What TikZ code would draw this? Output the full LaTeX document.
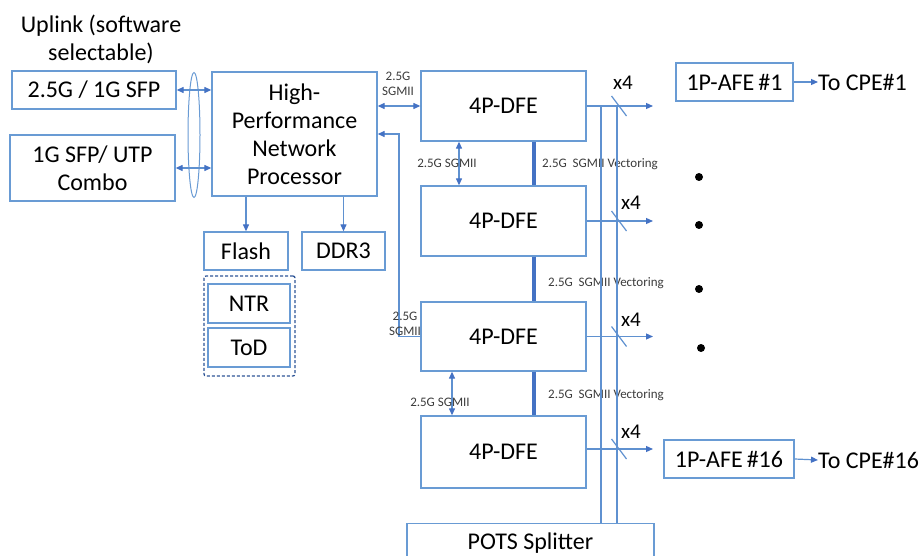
\documentclass[tikz,border=0pt]{standalone}
\usepackage{fontspec}
\setmainfont{Carlito}
\usetikzlibrary{arrows.meta,shapes.geometric}
\definecolor{boxc}{RGB}{105,155,212}
\definecolor{linec}{RGB}{95,145,208}
\definecolor{arrc}{RGB}{68,114,196}
\definecolor{dashc}{RGB}{47,85,151}
\definecolor{labc}{RGB}{60,60,60}
\begin{document}
\begin{tikzpicture}[x=1pt,y=-1pt,
  box/.style={draw=boxc, line width=1.3pt, inner sep=0pt, align=center, font=\fontsize{24}{28}\selectfont, text=black},
  conn/.style={draw=linec, line width=1.2pt},
  arr/.style={conn, -{Triangle[length=7pt,width=6pt,color=arrc]}},
  dbl/.style={conn, {Triangle[length=7pt,width=6pt,color=arrc]}-{Triangle[length=7pt,width=6pt,color=arrc]}},
  vect/.style={draw=arrc, line width=3.5pt},
  small/.style={font=\fontsize{13}{15}\selectfont, text=labc, inner sep=0pt, align=center},
  big/.style={font=\fontsize{24}{28}\selectfont, inner sep=0pt, align=center},
  xfour/.style={font=\fontsize{21}{24}\selectfont, inner sep=0pt},
]
\useasboundingbox (0,0) rectangle (919,556);
\fill[white] (0,0) rectangle (919,556);

% uplink side
\node[big] (uplink) at (101,39) {Uplink (software\\selectable)};
\node[box, minimum width=164pt, minimum height=38pt] (sfp) at (94,90) {2.5G / 1G SFP};
\node[box, minimum width=165pt, minimum height=66pt] (combo) at (92.5,168) {1G SFP/ UTP\\Combo};
\node[box, minimum width=165pt, minimum height=124pt] (hpnp) at (294.5,134) {High-\\Performance\\Network\\Processor};
\node[draw=boxc, line width=1pt, ellipse, minimum width=12pt, minimum height=125pt, inner sep=0pt] (ell) at (194,135) {};
\draw[dbl] (sfp.east) -- (sfp.east -| hpnp.west);
\draw[dbl] (combo.east) -- (combo.east -| hpnp.west);

% memory
\node[box, minimum width=84pt, minimum height=38pt] (flash) at (246,251) {Flash};
\node[box, minimum width=83pt, minimum height=38pt] (ddr) at (343.5,251) {DDR3};
\draw[arr] (flash.north |- hpnp.south) -- (flash.north);
\draw[arr] (ddr.north |- hpnp.south) -- (ddr.north);

% timing
\node[draw=dashc, line width=1.3pt, dash pattern=on 3pt off 2pt, rounded corners=2pt, minimum width=91pt, minimum height=100pt, inner sep=0pt] (timing) at (249.5,326) {};
\node[box, minimum width=82pt, minimum height=39pt] (ntr) at (249,303.5) {NTR};
\node[box, minimum width=82pt, minimum height=39pt] (tod) at (249,347.5) {ToD};

% DFEs
\node[box, minimum width=165pt, minimum height=70pt] (dfe1) at (503.5,106) {4P-DFE};
\node[box, minimum width=165pt, minimum height=70pt] (dfe2) at (503.5,221) {4P-DFE};
\node[box, minimum width=165pt, minimum height=69pt] (dfe3) at (503.5,336.5) {4P-DFE};
\node[box, minimum width=165pt, minimum height=72pt] (dfe4) at (503.5,452) {4P-DFE};

% HPNP <-> DFE
\draw[dbl] (hpnp.east |- dfe1.west) -- (dfe1.west);
\node[small] (l1) at (398,84) {2.5G\\SGMII};
\coordinate (retA) at (399,134);
\draw[arr] (dfe3.west) -| (retA) -- (hpnp.east |- retA);
\node[small] (l2) at (405,324) {2.5G\\SGMII};

% DFE <-> DFE
\draw[dbl] (dfe1.south -| 459,0) -- (dfe2.north -| 459,0);
\node[small] (l3) at (447,163) {2.5G SGMII};
\draw[dbl] (dfe3.south -| 452,0) -- (dfe4.north -| 452,0);
\node[small] (l4) at (440,402) {2.5G SGMII};

% vectoring
\draw[vect] (dfe1.south -| 534,0) -- (dfe2.north -| 534,0);
\draw[vect] (dfe2.south -| 534,0) -- (dfe3.north -| 534,0);
\draw[vect] (dfe3.south -| 534,0) -- (dfe4.north -| 534,0);
\node[small, anchor=west] (v1) at (542,164) {2.5G\ \ SGMII Vectoring};
\node[small, anchor=west] (v2) at (548,283) {2.5G\ \ SGMII Vectoring};
\node[small, anchor=west] (v3) at (548,395) {2.5G\ \ SGMII Vectoring};

% POTS splitter
\begin{scope}
\clip (0,0) rectangle (919,556);
\node[box, minimum width=247pt, minimum height=60pt, anchor=north] (pots) at (530.5,523) {};
\end{scope}
\node[big] (potst) at (530.5,543) {POTS Splitter};

% vertical buses
\draw[conn] (601,106) -- (601 ,523);
\draw[conn] (617,106) -- (617,523);

% outputs
\coordinate (o1) at (653,106);
\coordinate (o2) at (653,221);
\coordinate (o3) at (653,336.5);
\coordinate (o4) at (653,449);
\draw[arr] (dfe1.east) -- (o1);
\draw[arr] (dfe2.east) -- (o2);
\draw[arr] (dfe3.east) -- (o3);
\draw[arr] (dfe4.east |- o4) -- (o4);
\foreach \yy in {106,221,336.5,449} {
  \draw[conn] (611.5,\yy-10) -- (626.5,\yy+10);
}
\node[xfour] (x1) at (623,83) {x4};
\node[xfour] (x2) at (631,203) {x4};
\node[xfour] (x3) at (631,320) {x4};
\node[xfour] (x4) at (631,432) {x4};

% AFEs
\node[box, minimum width=117pt, minimum height=38pt] (afe1) at (734.5,82) {1P-AFE\,\#1};
\node[box, minimum width=130pt, minimum height=38pt] (afe16) at (729,459) {1P-AFE\,\#16};
\node[big, anchor=west] (cpe1) at (818,82) {To CPE\#1};
\node[big, anchor=west] (cpe16) at (818,460) {To CPE\#16};
\draw[arr] (afe1.east) -- (cpe1.west);
\draw[arr] (afe16.east) -- (cpe16.west);

% dots
\fill (699,177) circle (4pt);
\fill (699,225) circle (4pt);
\fill (699,289) circle (4pt);
\fill (701,348) circle (4pt);
\end{tikzpicture}
\end{document}
